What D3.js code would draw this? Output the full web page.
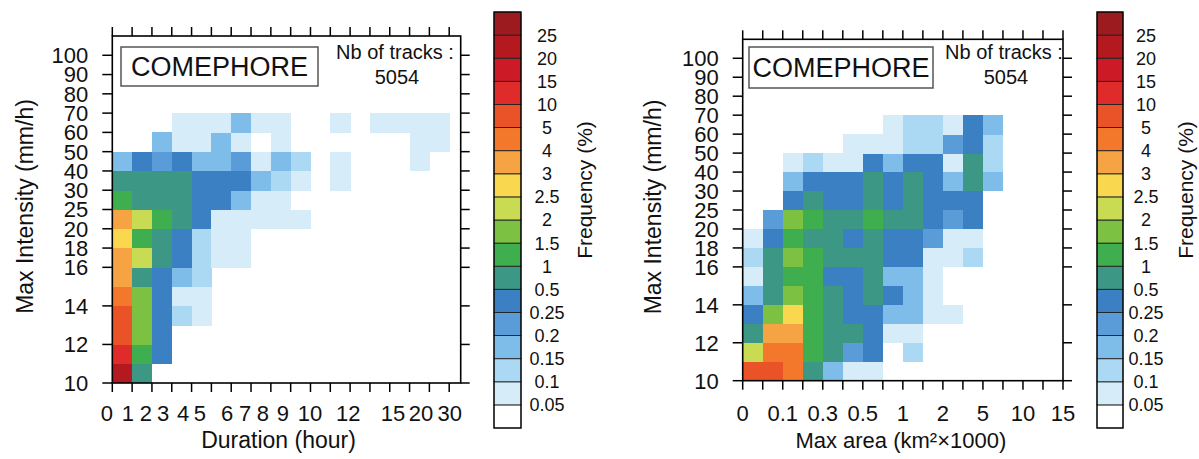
<!DOCTYPE html>
<html><head><meta charset="utf-8">
<script src="https://cdn.jsdelivr.net/npm/d3@7"></script>
<style>
body{margin:0;background:#fff}
svg{display:block}
text{font-family:"Liberation Sans",Arial,Helvetica,sans-serif;fill:#111}
</style></head>
<body><svg id="c" width="1199" height="459"></svg>
<script>
// ---------- colour levels (Frequency %) ----------
const levels = [0.05,0.1,0.15,0.2,0.25,0.5,1,1.5,2,2.5,3,4,5,10,15,20,25];
const levelLabels = ["0.05","0.1","0.15","0.2","0.25","0.5","1","1.5","2","2.5","3","4","5","10","15","20","25"];
const colors = ["#ffffff","#d6ecf9","#abd9f4","#7ebde9","#5a9cd8","#3b80c2","#3c9784","#3fae4f",
                "#7dc143","#c9db52","#f9d850","#f6a344","#f3782b","#ea5227","#df2c2a","#cc1a26","#b3191f","#9b1b1e"];

// ---------- axes categories ----------
const intensityEdges = [10,11,12,13,14,15,16,18,20,25,30,40,50,60,70,80,90,100,110];
const intensityLabels = [10,12,14,16,18,20,25,30,40,50,60,70,80,90,100];
const durationEdges = [0,1,2,3,4,5,6,7,8,9,10,11,12,13,14,15,20,30];
const durationLabels = [0,1,2,3,4,5,6,7,8,9,10,12,15,20,30];
// where the original figure prints each duration label, in bin-edge units
const durationLabelAt = [-0.27,0.79,1.7,2.56,3.57,4.42,5.79,6.7,7.6,8.61,9.98,11.9,14.16,15.58,17.03];
const areaEdges = [0,0.05,0.1,0.2,0.3,0.4,0.5,0.75,1,1.5,2,3,5,7.5,10,12.5,15];
const areaLabels = [0,0.1,0.3,0.5,1,2,5,10,15];
const areaLabelAt = [0,2,4,6,8,10,12,14,16];

// ---------- frequency (%) : rows = intensity bins from 10-11 upward, columns = duration bins ----------
const durationFreq = [
 [22,0.7,0,0,0,0,0,0,0,0,0,0,0,0,0,0,0],
 [12,1.2,0.35,0,0,0,0,0,0,0,0,0,0,0,0,0,0],
 [7,1.7,0.35,0,0,0,0,0,0,0,0,0,0,0,0,0,0],
 [7,1.7,0.35,0.12,0.07,0,0,0,0,0,0,0,0,0,0,0,0],
 [4.5,1.7,0.35,0.07,0.07,0,0,0,0,0,0,0,0,0,0,0,0],
 [3.5,0.7,0.35,0.17,0.12,0,0,0,0,0,0,0,0,0,0,0,0],
 [3.5,2.2,0.7,0.35,0.12,0.07,0.07,0,0,0,0,0,0,0,0,0,0],
 [2.7,1.2,0.7,0.35,0.12,0.07,0.07,0,0,0,0,0,0,0,0,0,0],
 [3.5,2.2,1.2,0.7,0.35,0.07,0.07,0.07,0.07,0.07,0,0,0,0,0,0,0],
 [1.2,0.7,0.7,0.7,0.35,0.35,0.17,0.07,0.07,0,0,0,0,0,0,0,0],
 [0.7,0.7,0.7,0.7,0.35,0.35,0.35,0.17,0.12,0.07,0,0.07,0,0,0,0,0],
 [0.17,0.35,0.22,0.35,0.17,0.17,0.22,0.07,0.17,0.12,0,0.07,0,0,0,0.07,0],
 [0,0,0.17,0.07,0.07,0.17,0.07,0,0.07,0,0,0,0,0,0,0.07,0.07],
 [0,0,0,0.07,0.07,0.07,0.17,0.07,0.07,0,0,0.07,0,0.07,0.07,0.07,0.07]
];
// rows = intensity bins from 10-11 upward, columns = max-area bins
const areaFreq = [
 [7,7,4.5,0.7,0.17,0.07,0.07,0,0,0,0,0,0,0,0,0],
 [2.2,4.5,4.5,1.2,0.7,0.22,0.35,0,0.12,0,0,0,0,0,0,0],
 [0.7,3.5,3.5,1.2,0.7,0.7,0.35,0.07,0.07,0,0,0,0,0,0,0],
 [0.35,1.7,2.7,1.2,0.7,0.35,0.35,0.17,0.17,0.07,0.07,0,0,0,0,0],
 [0.17,0.7,1.7,1.2,0.7,0.35,0.7,0.35,0.17,0.07,0,0,0,0,0,0],
 [0.07,0.7,1.2,1.2,0.35,0.35,0.7,0.17,0.17,0.07,0,0,0,0,0,0],
 [0.12,0.7,1.7,1.2,0.7,0.7,0.7,0.35,0.35,0.07,0.07,0.12,0,0,0,0],
 [0.07,0.35,1.2,0.7,0.7,0.35,0.7,0.35,0.35,0.22,0.07,0.07,0,0,0,0],
 [0,0.22,1.7,1.2,0.7,0.7,1.2,0.7,0.7,0.35,0.22,0.35,0,0,0,0],
 [0,0,0.35,0.7,0.35,0.35,0.7,0.35,0.7,0.35,0.35,0.35,0,0,0,0],
 [0,0,0.17,0.35,0.35,0.35,0.7,0.35,0.7,0.35,0.17,0.7,0.17,0,0,0],
 [0,0,0.07,0.12,0.07,0.07,0.35,0.17,0.35,0.35,0.07,0.7,0.12,0,0,0],
 [0,0,0,0,0,0.07,0.07,0.07,0.12,0.12,0.22,0.35,0.12,0,0,0],
 [0,0,0,0,0,0,0,0.07,0.12,0.12,0.07,0.35,0.17,0,0,0]
];
const sourceName = "COMEPHORE";
const nbTracks = 5054;

// ---------- drawing ----------
const svg = d3.select("#c");
const color = d3.scaleThreshold().domain(levels).range(colors);

const panels = [
  {data: durationFreq, xEdges: durationEdges, xLabels: durationLabels, xLabelAt: durationLabelAt,
   xTitle: "Duration (hour)", xTitleFs: 23,
   left:112.3, right:460.7, top:36, bottom:383, xExtent: 17.58,
   box:{x:121,y:47,w:197,h:39,fs:27}, nb:{x:395,fs:20},
   yTitleX:25, cbX:494, cbW:27, cbLabelX:547, cbTitleX:584},
  {data: areaFreq, xEdges: areaEdges, xLabels: areaLabels, xLabelAt: areaLabelAt,
   xTitle: "Max area (km\u00B2\u00D71000)", xTitleFs: 22,
   left:742.7, right:1063, top:39.3, bottom:380.7, xExtent: 16,
   box:{x:749,y:47,w:184,h:41,fs:27}, nb:{x:1004,fs:20},
   yTitleX:653, cbX:1097, cbW:26, cbLabelX:1146, cbTitleX:1185}
];

panels.forEach(p => {
  const g = svg.append("g");
  const x = d3.scaleLinear().domain([0, p.xExtent]).range([p.left, p.right]);
  const y = d3.scaleLinear().domain([0, intensityEdges.length - 1]).range([p.bottom, p.top]);

  // cells
  const cells = [];
  p.data.forEach((row, r) => row.forEach((v, c) => { if (v >= levels[0]) cells.push({r, c, v}); }));
  g.append("g").attr("shape-rendering","crispEdges").selectAll("rect").data(cells).join("rect")
    .attr("x", d => x(d.c)).attr("y", d => y(d.r + 1))
    .attr("width", d => x(d.c + 1) - x(d.c) + 0.4)
    .attr("height", d => y(d.r) - y(d.r + 1) + 0.4)
    .attr("fill", d => color(d.v));

  // frame
  g.append("rect").attr("x", p.left).attr("y", p.top)
    .attr("width", p.right - p.left).attr("height", p.bottom - p.top)
    .attr("fill","none").attr("stroke","#000").attr("stroke-width",1.6);

  // x ticks top and bottom at every bin edge
  const xi = d3.range(p.xEdges.length);
  g.selectAll("line.xb").data(xi).join("line").attr("class","xb")
    .attr("x1", d => x(d)).attr("x2", d => x(d)).attr("y1", p.bottom).attr("y2", p.bottom + 9)
    .attr("stroke","#000").attr("stroke-width",1.5);
  g.selectAll("line.xt").data(xi).join("line").attr("class","xt")
    .attr("x1", d => x(d)).attr("x2", d => x(d)).attr("y1", p.top).attr("y2", p.top - 9)
    .attr("stroke","#000").attr("stroke-width",1.5);

  // y ticks left and right at labelled edges
  const yi = intensityLabels.map(v => intensityEdges.indexOf(v));
  g.selectAll("line.yl").data(yi).join("line").attr("class","yl")
    .attr("x1", p.left - 10).attr("x2", p.left).attr("y1", d => y(d)).attr("y2", d => y(d))
    .attr("stroke","#000").attr("stroke-width",1.5);
  g.selectAll("line.yr").data(yi).join("line").attr("class","yr")
    .attr("x1", p.right).attr("x2", p.right + 9).attr("y1", d => y(d)).attr("y2", d => y(d))
    .attr("stroke","#000").attr("stroke-width",1.5);

  // y labels
  g.selectAll("text.yl").data(intensityLabels).join("text").attr("class","yl")
    .attr("x", p.left - 24).attr("y", d => y(intensityEdges.indexOf(d)))
    .attr("dy","0.36em").attr("text-anchor","end").attr("font-size",22).text(d => d);

  // x labels
  g.selectAll("text.xl").data(p.xLabels).join("text").attr("class","xl")
    .attr("x", (d, i) => x(p.xLabelAt[i])).attr("y", 421)
    .attr("text-anchor","middle").attr("font-size",22).text(d => d);

  // titles
  g.append("text").attr("x", (p.left + p.right) / 2 + (p === panels[0] ? -8 : -2)).attr("y", 448)
    .attr("text-anchor","middle").attr("font-size",p.xTitleFs).text(p.xTitle);
  g.append("text").attr("transform", `translate(${p.yTitleX},${(p.top + p.bottom) / 2 - 3}) rotate(-90)`)
    .attr("dy","0.36em").attr("text-anchor","middle").attr("font-size",23).text("Max Intensity (mm/h)");

  // legend box
  g.append("rect").attr("x", p.box.x).attr("y", p.box.y).attr("width", p.box.w).attr("height", p.box.h)
    .attr("fill","#fff").attr("stroke","#555").attr("stroke-width",1.5);
  g.append("text").attr("x", p.box.x + p.box.w / 2).attr("y", p.box.y + p.box.h / 2)
    .attr("dy","0.36em").attr("text-anchor","middle").attr("font-size", p.box.fs).text(sourceName);
  g.append("text").attr("x", p.nb.x).attr("y", 59).attr("text-anchor","middle")
    .attr("font-size", p.nb.fs).text("Nb of tracks :");
  g.append("text").attr("x", p.nb.x + 2).attr("y", 84).attr("text-anchor","middle")
    .attr("font-size", p.nb.fs).text(nbTracks);

  // colour bar
  const cb = d3.scaleLinear().domain([0, colors.length]).range([428, 12]);
  const cbg = g.append("g");
  cbg.selectAll("rect").data(colors).join("rect")
    .attr("x", p.cbX).attr("y", (d, i) => cb(i + 1)).attr("width", p.cbW)
    .attr("height", (d, i) => cb(i) - cb(i + 1)).attr("fill", d => d)
    .attr("stroke","#222").attr("stroke-width",0.9);
  cbg.append("rect").attr("x", p.cbX).attr("y", cb(colors.length)).attr("width", p.cbW)
    .attr("height", cb(0) - cb(colors.length)).attr("fill","none").attr("stroke","#000").attr("stroke-width",1.2);
  cbg.selectAll("text").data(levelLabels).join("text")
    .attr("x", p.cbLabelX).attr("y", (d, i) => cb(i + 1)).attr("dy","0.36em")
    .attr("text-anchor","middle").attr("font-size",18).text(d => d);
  cbg.append("text").attr("transform", `translate(${p.cbTitleX},190) rotate(-90)`)
    .attr("dy","0.36em").attr("text-anchor","middle").attr("font-size",21).text("Frequency (%)");
});
</script></body></html>
